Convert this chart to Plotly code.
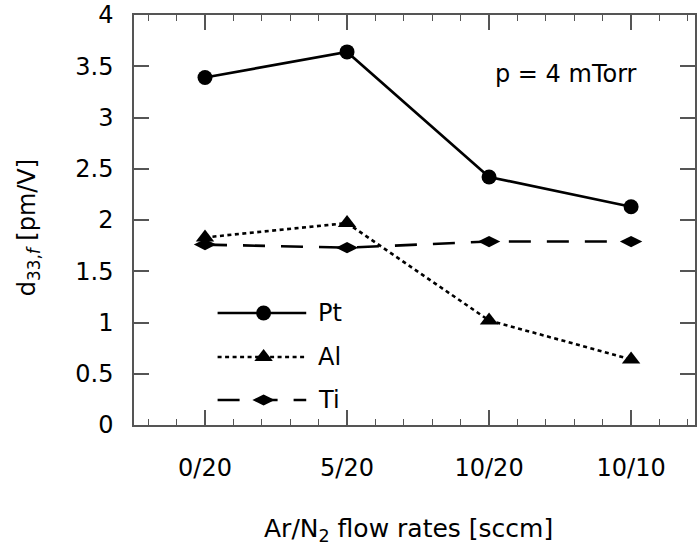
import plotly.graph_objects as go

categories = ["0/20", "5/20", "10/20", "10/10"]
pt_values = [3.39, 3.64, 2.42, 2.13]
al_values = [1.83, 1.97, 1.02, 0.64]
ti_values = [1.76, 1.73, 1.79, 1.79]
series_names = ["Pt", "Al", "Ti"]

FONT = "DejaVu Sans"
x_idx = list(range(len(categories)))

styles = {
    "Pt": dict(dash="solid", symbol="circle", size=15),
    "Al": dict(dash="4px,3.5px", symbol="triangle-up", size=16),
    "Ti": dict(dash="22px,16px", symbol="diamond-wide", size=16),
}
values = {"Pt": pt_values, "Al": al_values, "Ti": ti_values}

fig = go.Figure()
for name in series_names:
    st = styles[name]
    fig.add_trace(go.Scatter(
        x=x_idx, y=values[name], mode="lines+markers", name=name,
        line=dict(color="black", width=2.6, dash=st["dash"]),
        marker=dict(symbol=st["symbol"], size=st["size"], color="black"),
        showlegend=False,
    ))

# manual legend drawn on an overlay axis (paper-like 0..1 frame)
leg_rows = {"Pt": 0.273, "Al": 0.166, "Ti": 0.061}
leg_x0, leg_xm, leg_x1, leg_tx = 0.149, 0.231, 0.307, 0.325
for name in series_names:
    st = styles[name]
    yy = leg_rows[name]
    fig.add_trace(go.Scatter(
        x=[leg_x0, leg_x1], y=[yy, yy], mode="lines",
        line=dict(color="black", width=2.6, dash=st["dash"]),
        xaxis="x2", yaxis="y2", showlegend=False, hoverinfo="skip"))
    fig.add_trace(go.Scatter(
        x=[leg_xm], y=[yy], mode="markers",
        marker=dict(symbol=st["symbol"], size=st["size"], color="black"),
        xaxis="x2", yaxis="y2", showlegend=False, hoverinfo="skip"))
    fig.add_annotation(x=leg_tx, y=yy, xref="x2", yref="y2", text=name,
                       showarrow=False, xanchor="left", yanchor="middle",
                       font=dict(family=FONT, size=24, color="black"))

axis_col = "#555555"
fig.update_layout(
    width=697, height=556,
    margin=dict(l=134, r=0, t=15, b=131),
    paper_bgcolor="white", plot_bgcolor="white",
    font=dict(family=FONT, size=24, color="black"),
    xaxis=dict(
        range=[-0.5, 3.45], tickmode="array", tickvals=x_idx, ticktext=categories,
        ticks="inside", ticklen=15, tickwidth=1.5, tickcolor=axis_col,
        minor=dict(dtick=0.2, tick0=0, ticks="inside", ticklen=6, tickwidth=1.2, tickcolor=axis_col),
        showline=True, linecolor=axis_col, linewidth=1.5, mirror="ticks",
        showgrid=False, zeroline=False, ticklabelstandoff=20,
        tickfont=dict(family=FONT, size=24, color="black"),
    ),
    yaxis=dict(
        range=[0, 4], dtick=0.5, tick0=0,
        ticks="inside", ticklen=15, tickwidth=1.5, tickcolor=axis_col,
        showline=True, linecolor=axis_col, linewidth=1.5, mirror="ticks",
        showgrid=False, zeroline=False, ticklabelstandoff=14,
        tickfont=dict(family=FONT, size=24, color="black"),
    ),
    xaxis2=dict(range=[0, 1], overlaying="x", visible=False, fixedrange=True),
    yaxis2=dict(range=[0, 1], overlaying="y", visible=False, fixedrange=True),
)

fig.add_annotation(x=0.64, y=0.855, xref="paper", yref="paper",
                   text="p = 4 mTorr", showarrow=False, xanchor="left", yanchor="middle",
                   font=dict(family=FONT, size=24, color="black"))
fig.add_annotation(x=0, y=0.48, xref="paper", yref="paper", xshift=-106,
                   text="d<sub>33,<i>f</i></sub> [pm/V]", textangle=-90, showarrow=False,
                   xanchor="center", yanchor="middle",
                   font=dict(family=FONT, size=24, color="black"))
fig.add_annotation(x=0.49, y=0, xref="paper", yref="paper", yshift=-105,
                   text="Ar/N<sub>2</sub> flow rates [sccm]", showarrow=False,
                   xanchor="center", yanchor="middle",
                   font=dict(family=FONT, size=25, color="black"))

fig.write_html("out.html")
